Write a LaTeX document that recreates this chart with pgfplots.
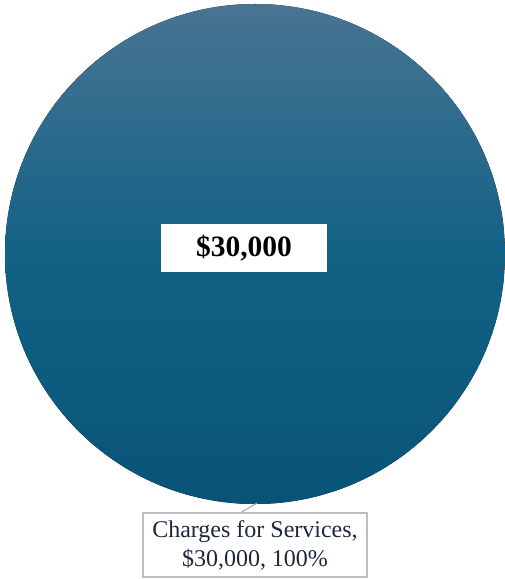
\documentclass[border=0pt]{standalone}
\usepackage{pgfplots}
\pgfplotsset{compat=1.18}
\usepackage{pgfplotstable}
\usepackage{fontspec}
\setmainfont{Liberation Serif}
\definecolor{pieTop}{RGB}{72,116,146}
\definecolor{pieMid}{RGB}{18,98,134}
\definecolor{pieBot}{RGB}{8,84,120}
\definecolor{boxline}{RGB}{191,191,191}
\definecolor{leader}{RGB}{166,166,166}
\definecolor{txt}{RGB}{30,40,60}
\pgfplotstableread{
category value
Charges 30000
}\piedata
\begin{document}
\begin{tikzpicture}
\begin{axis}[
  hide axis, scale only axis,
  width=505pt, height=579pt,
  xmin=0, xmax=505, ymin=0, ymax=579,
  clip=false,
]
\path (axis cs:0,0) rectangle (axis cs:505,579);
% full wedge: 100% of total
\fill[top color=pieTop, bottom color=pieBot, middle color=pieMid]
  (axis cs:255,325) circle[radius=250pt];
\addplot[draw=none, mark=none, forget plot] table[x expr=255, y expr=325] {\piedata};
\draw[leader, line width=1pt] (axis cs:257,76) -- (axis cs:240,66);
\node[draw=boxline, line width=1.2pt, fill=white, text=txt, align=center,
      font=\fontsize{24}{29}\selectfont, minimum width=224pt, minimum height=64pt,
      inner sep=0pt]
  at (axis cs:255,34) {Charges for Services,\\\$30,000, 100\%};
\node[fill=white, minimum width=166pt, minimum height=48pt, inner sep=0pt,
      font=\fontsize{29.5}{32}\selectfont\bfseries]
  at (axis cs:244,331) {\$30,000};
\end{axis}
\end{tikzpicture}
\end{document}
